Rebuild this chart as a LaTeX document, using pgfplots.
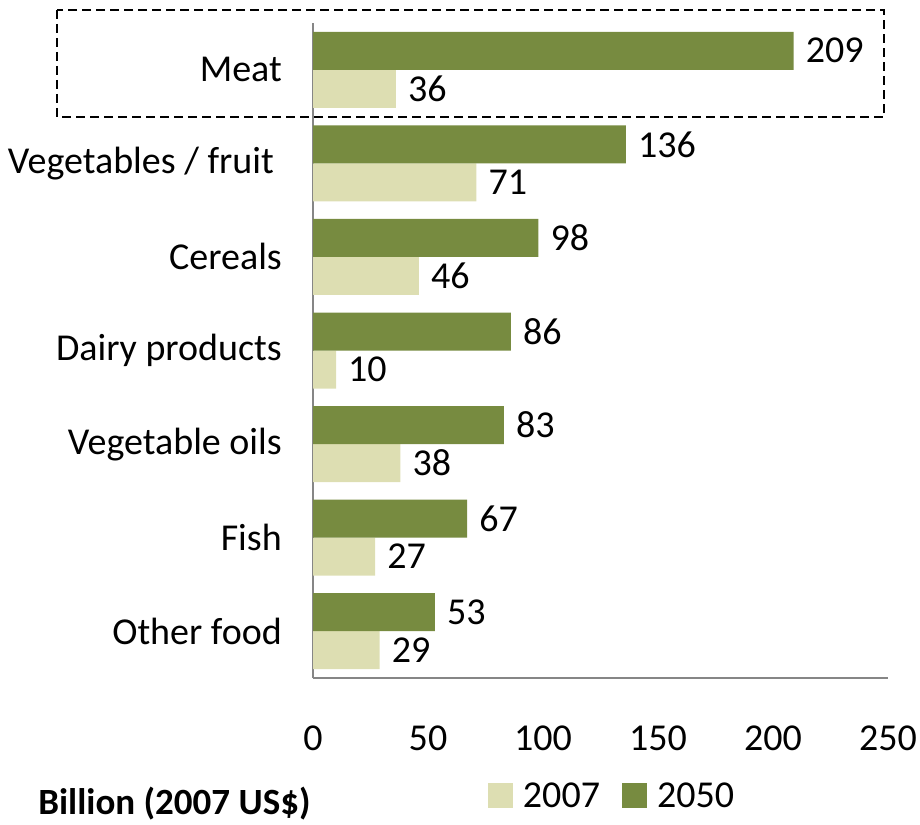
\documentclass[border=0pt]{standalone}
\usepackage{fontspec}
\setmainfont{Carlito}
\usepackage{pgfplots}
\pgfplotsset{compat=1.18}
\definecolor{darkolive}{RGB}{119,139,64}
\definecolor{lightolive}{RGB}{221,222,178}
\definecolor{axisgray}{RGB}{134,134,134}
\newcommand{\bigfont}{\fontsize{38}{45}\selectfont}
\begin{document}
\begin{tikzpicture}[font=\bigfont]
\useasboundingbox (0pt,0pt) rectangle (920pt,-824pt);
\begin{axis}[
  at={(313pt,-678pt)}, anchor=south west,
  scale only axis, width=575pt, height=655pt,
  xbar, bar width=38pt,
  xmin=0, xmax=250, ymin=-0.5, ymax=6.5,
  xtick={0,50,100,150,200,250},
  xticklabels={0,50,100,150,200,250},
  ytick={0,1,2,3,4,5,6},
  yticklabels={Other food,Fish,Vegetable oils,Dairy products,Cereals,{Vegetables / fruit\kern8pt},Meat},
  axis x line*=bottom, axis y line*=left,
  axis line style={draw=axisgray, line width=2pt, -},
  major tick length=0pt,
  tick style={draw=none},
  /pgf/number format/assume math mode=true,
  xticklabel style={font=\bigfont, anchor=center, inner sep=0pt, yshift=-60pt},
  yticklabel style={font=\bigfont, anchor=east, inner sep=0pt, xshift=-31pt},
  point meta=x,
  nodes near coords,
  nodes near coords style={font=\bigfont, inner sep=0pt, anchor=west, xshift=12pt},
  xlabel={Billion (2007 US\$)},
  xlabel style={at={(axis description cs:-0.478,-0.191)}, anchor=west, inner sep=0pt, font=\fontsize{37}{44}\selectfont\bfseries},
  legend columns=2,
  legend style={draw=none, fill=none, at={(axis description cs:0.3043,-0.180)}, anchor=west,
    inner sep=0pt, outer sep=0pt, font=\bigfont,
    nodes={inner sep=0pt},
    /tikz/every odd column/.append style={column sep=10pt},
    /tikz/every even column/.append style={column sep=22pt}},
  legend image code/.code={\fill[#1] (0pt,-12.5pt) rectangle (25pt,12.5pt);},
]
\addplot[fill=lightolive, draw=none, bar shift=-19pt] coordinates {
  (29,0) (27,1) (38,2) (10,3) (46,4) (71,5) (36,6)};
\addlegendentry{2007}
\addplot[fill=darkolive, draw=none, bar shift=19pt] coordinates {
  (53,0) (67,1) (83,2) (86,3) (98,4) (136,5) (209,6)};
\addlegendentry{2050}
\end{axis}
\draw[line width=2pt, dash pattern=on 9pt off 5pt] (57pt,-10pt) rectangle (884pt,-117pt);
\end{tikzpicture}
\end{document}
